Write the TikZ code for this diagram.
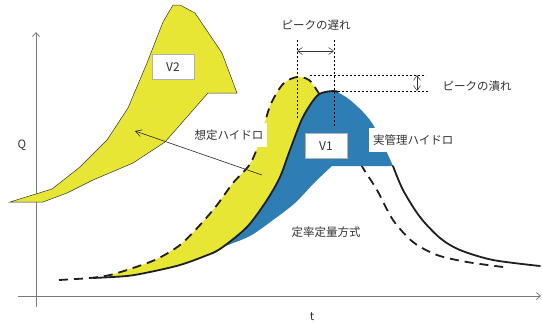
\documentclass[tikz,border=0pt]{standalone}
\usepackage{fontspec}
\setmainfont{Noto Sans CJK JP}
\usetikzlibrary{arrows.meta,positioning}
\definecolor{hydroyellow}{HTML}{E8E634}
\definecolor{hydroblue}{HTML}{2E7DB5}
\definecolor{axisgray}{HTML}{7A7A7A}

\begin{document}
\begin{tikzpicture}[x=1pt, y=-1pt,
  lbl/.style={font=\fontsize{11.5}{13}\selectfont, text=black!80, inner sep=1pt},
  whitelbl/.style={lbl, fill=white, inner xsep=4pt, minimum height=24pt},
  vbox/.style={draw=black!30, fill=white, line width=0.9pt, minimum width=42pt, minimum height=25pt, text=black!80, font=\fontsize{12}{13}\selectfont},
  axis/.style={axisgray, line width=0.8pt, -{Straight Barb[length=4pt,width=7pt]}},
  actual/.style={line width=1.8pt, black!88, line cap=round},
  hypo/.style={line width=1.8pt, black!88, dash pattern=on 9pt off 6pt},
  guide/.style={black, line width=0.6pt, dash pattern=on 2.2pt off 1.8pt},
  dim/.style={black!80, line width=0.5pt, {Straight Barb[length=5pt,width=7pt]}-{Straight Barb[length=5pt,width=7pt]}},
  pointer/.style={black!85, line width=0.6pt, -{Straight Barb[length=6pt,width=7pt]}}
]
  \useasboundingbox (0,0) rectangle (542,322);

  % axes
  \coordinate (ybot) at (36,307);
  \coordinate (ytop) at (36,32);
  \coordinate (xleft) at (18,296);
  \coordinate (xright) at (541,296);
  \draw[axis] (ybot) -- (ytop);
  \draw[axis] (xleft) -- (xright);
  \node[lbl] (qlbl) at (22,145) {Q};
  \node[lbl] (tlbl) at (312,317) {t};

  % V2
  \filldraw[fill=hydroyellow, draw=black!80, line width=0.5pt]
    (10,202) -- (52,189) -- (80,167) -- (107,140) -- (128,108) -- (147,63)
    -- (163,22) -- (173,5) -- (180,5) -- (195,13) -- (222,53) -- (237,93)
    -- (208,93) -- (165,142) -- (133,163) -- (93,180) -- (67,193) -- (43,202) -- cycle;
  \node[vbox] (v2) at (173,67) {V2};

  % V1 area between the two hydrographs
  \fill[hydroyellow]
    plot[smooth] coordinates {(110,275) (133,268) (157,259) (180,245) (200,225) (217,205) (233,183) (250,164) (260,140) (270,106) (283,84) (297,77) (309,80) (318,93)}
    -- plot[smooth] coordinates {(320,94) (303,117) (290,150) (280,177) (267,200) (247,227) (220,249) (205,256) (180,265) (150,272) (127,276) (110,276)}
    -- cycle;
  \draw[hypo] plot[smooth] coordinates {(59,280) (90,278) (110,275) (133,268) (157,259) (180,245) (200,225) (217,205) (233,183) (250,164) (260,140) (270,106) (283,84) (297,77) (309,80) (318,92) (340,128) (363,168) (377,190) (393,220) (413,242) (437,255) (467,262) (503,267)};
  \fill[hydroblue]
    plot[smooth] coordinates {(205,256) (220,249) (247,227) (267,200) (280,177) (290,150) (303,117) (318,95) (333,91) (350,100) (372,123) (393,166)}
    -- (332,166)
    -- plot[smooth] coordinates {(332,166) (315,182) (295,203) (273,220) (250,236) (223,247) (205,256)}
    -- cycle;
  \draw[actual] plot[smooth] coordinates {(93,278) (127,276) (150,272) (180,265) (205,256) (220,249) (247,227) (267,200) (280,177) (290,150) (303,117) (318,95) (333,91) (338,92)};
  \draw[actual] plot[smooth] coordinates {(393,166) (403,190) (420,217) (440,238) (460,250) (493,260) (540,266)};

  \node[vbox] (v1) at (326,146) {V1};
  \node[whitelbl, anchor=west] (actlbl) at (369,140) {実管理ハイドロ};
  \node[whitelbl] (hypolbl) at (229,135) {想定ハイドロ};
  \node[lbl] (ratelbl) at (326,232) {定率定量方式};

  % pointer to V2
  \coordinate (ptrfrom) at (262,175);
  \coordinate (ptrto) at (135,131);
  \draw[pointer] (ptrfrom) -- (ptrto);

  % peak delay
  \coordinate (pkA) at (297,77);
  \coordinate (pkB) at (334,91);
  \coordinate (dAtop) at (297,40);
  \coordinate (dAbot) at (297,118);
  \coordinate (dBtop) at (334,40);
  \coordinate (dBbot) at (334,126);
  \draw[guide] (dAtop) -- (dAbot);
  \draw[guide] (dBtop) -- (dBbot);
  \coordinate (arA) at (297,51);
  \coordinate (arB) at (334,51);
  \draw[dim] (arA) -- (arB);
  \node[lbl] (delaylbl) at (316,25) {ピークの遅れ};

  % peak flattening
  \coordinate (hAend) at (426,75);
  \coordinate (hBend) at (428,91);
  \draw[guide] (310,75) -- (hAend);
  \draw[guide] (pkB) -- (hBend);
  \coordinate (vrA) at (417,75);
  \coordinate (vrB) at (417,91);
  \draw[dim] (vrA) -- (vrB);
  \node[lbl] (flatlbl) at (477,86) {ピークの潰れ};
\end{tikzpicture}
\end{document}
